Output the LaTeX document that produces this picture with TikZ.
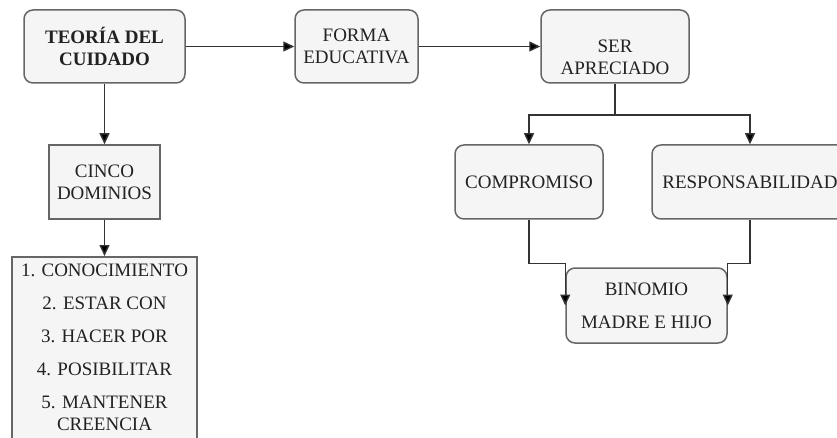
\documentclass[tikz,border=0pt]{standalone}
\usepackage{fontspec}
\setmainfont{Liberation Serif}
\usetikzlibrary{arrows.meta}
\definecolor{boxfill}{HTML}{F5F5F5}
\definecolor{boxline}{HTML}{666666}
\definecolor{txt}{HTML}{222222}
\definecolor{conn}{HTML}{333333}
\begin{document}
\begin{tikzpicture}[x=1pt,y=-1pt,
  box/.style={draw=boxline,fill=boxfill,line width=1.5pt,text=txt,inner sep=0pt,
    font=\fontsize{19}{22}\selectfont,align=center},
  rbox/.style={box,rounded corners=9pt},
  arr/.style={draw=conn,line width=1.4pt,-{Triangle[length=11pt,width=10pt,fill=black]}},
  ln/.style={draw=conn,line width=1.4pt}]
\useasboundingbox (0,0) rectangle (837,438);
\clip (0,0) rectangle (837,438);
\node[rbox,minimum width=161pt,minimum height=73pt] (teoria) at (104.5,46.5) {\textbf{TEORÍA DEL}\\\textbf{CUIDADO}};
\node[rbox,minimum width=123pt,minimum height=73pt] (forma) at (356.5,46.5) {FORMA\\EDUCATIVA};
\node[rbox,minimum width=148pt,minimum height=73pt] (ser) at (615,46.5) {};
\node[font=\fontsize{19}{22}\selectfont,text=txt,align=center] (sertxt) at (615,57) {SER\\APRECIADO};
\node[box,minimum width=111pt,minimum height=74pt] (cinco) at (104.5,182) {CINCO\\DOMINIOS};
\node[box,minimum width=185pt,minimum height=220pt,anchor=north] (lista) at (104.5,256) {};
\node[font=\fontsize{19}{22}\selectfont,text=txt,align=center,anchor=north] (listatxt) at (104.5,260) {1. CONOCIMIENTO\\[11pt]2. ESTAR CON\\[11pt]3. HACER POR\\[11pt]4. POSIBILITAR\\[11pt]5. MANTENER\\CREENCIA};
\node[rbox,minimum width=148pt,minimum height=74pt] (comp) at (529,182) {COMPROMISO};
\node[rbox,minimum width=196pt,minimum height=74pt] (resp) at (750,182) {RESPONSABILIDAD};
\node[rbox,minimum width=161pt,minimum height=75pt] (bin) at (646.5,305.5) {BINOMIO\\[11pt]MADRE E HIJO};
\draw[arr] (teoria.east) -- (forma.west);
\draw[arr] (forma.east) -- (ser.west);
\draw[arr] (teoria.south) -- (cinco.north);
\draw[arr] (cinco.south) -- (lista.north);
\coordinate (split) at (615,115);
\draw[ln] (ser.south) -- (split);
\draw[arr] (split) -| (comp.north);
\draw[arr] (split) -| (resp.north);
\draw[arr] (comp.south) -- ++(0,44) -| (bin.west);
\draw[arr] (resp.south) -- ++(0,44) -| (bin.east);
\end{tikzpicture}
\end{document}
